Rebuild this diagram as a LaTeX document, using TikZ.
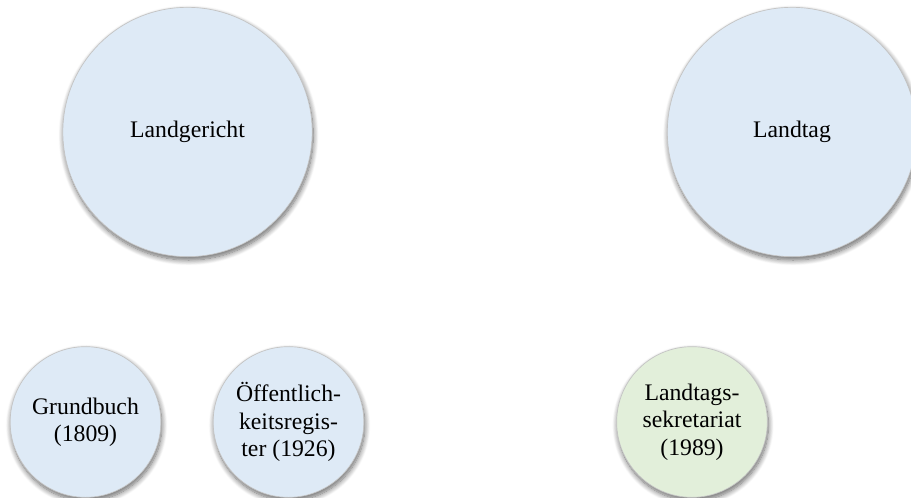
\documentclass[tikz,border=0pt]{standalone}
\usepackage{fontspec}
\setmainfont{Liberation Serif}
\usetikzlibrary{shadows.blur}
\definecolor{circblue}{HTML}{DEEAF6}
\definecolor{circgreen}{HTML}{E2EFDA}
\definecolor{circline}{HTML}{C4C4C4}
\definecolor{shadblue}{HTML}{8FB8E0}
\tikzset{
  bubble/.style={circle, draw=circline, line width=0.5pt,
    inner sep=0pt, align=center, font=\fontsize{17.8}{20.5}\selectfont,
    blur shadow={shadow xshift=0.8pt, shadow yshift=-2.5pt, shadow blur radius=4pt,
      shadow blur steps=10, shadow opacity=60, fill=shadblue},
    fill=circblue},
  bigbubble/.style={bubble, minimum size=187pt},
  smallbubble/.style={bubble, minimum size=113pt},
}
\begin{document}
\begin{tikzpicture}[x=0.75pt, y=-0.75pt]
\useasboundingbox (0,0) rectangle (911,497);
\node[bigbubble] (lg) at (187.5,132) {Landgericht};
\node[bigbubble] (lt) at (792,132) {Landtag};
\node[smallbubble] (gb) at (85.5,422) {Grundbuch\\(1809)};
\node[smallbubble] (or) at (288.5,422) {Öffentlich-\\keitsregis-\\ter (1926)};
\node[smallbubble, fill=circgreen] (ls) at (692,422) {Landtags-\\sekretariat\\(1989)};
\end{tikzpicture}
\end{document}
